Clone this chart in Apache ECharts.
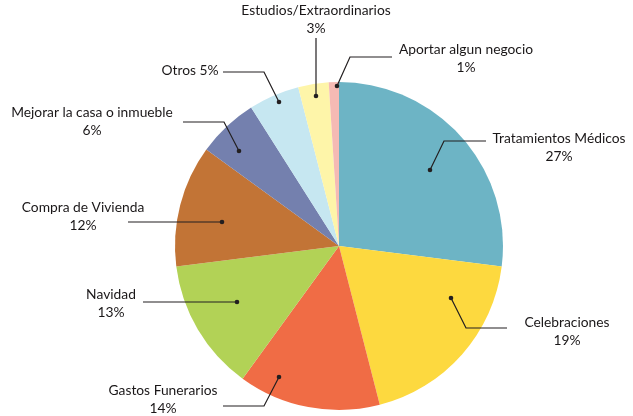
<!DOCTYPE html>
<html>
<head>
<meta charset="utf-8">
<script src="https://cdn.jsdelivr.net/npm/echarts@6/dist/echarts.min.js"></script>
<style>
  html, body { margin: 0; padding: 0; background: #fff; }
  #chart { width: 633px; height: 416px; }
</style>
</head>
<body>
<div id="chart"></div>
<script>
// datos del gráfico
const categories = [
  'Tratamientos Médicos', 'Celebraciones', 'Gastos Funerarios', 'Navidad',
  'Compra de Vivienda', 'Mejorar la casa o inmueble', 'Otros',
  'Estudios/Extraordinarios', 'Aportar algun negocio'
];
const values = [27, 19, 14, 13, 12, 6, 5, 3, 1];
const colors = ['#6db4c5', '#fdd93f', '#f06c45', '#b2d256', '#c27436', '#7480ae', '#c6e7f1', '#fef5a9', '#f5bab4'];

// posición de cada etiqueta: texto (centro) y línea guía (punto -> codo -> final)
const labelPos = [
  { text: [559, 148], line: [[430, 170], [444, 141], [486, 141]] },
  { text: [567, 332], line: [[451, 298], [466, 328], [507, 328]] },
  { text: [163, 400], line: [[279, 377], [264, 406], [223, 406]] },
  { text: [111, 304], line: [[237, 302], [143, 302]] },
  { text: [83, 217], line: [[222, 222], [128, 222]] },
  { text: [92, 122], line: [[239, 151], [224, 122], [183, 122]] },
  { text: [190, 71], line: [[279, 102], [264, 72], [223, 72]] },
  { text: [316, 20], line: [[316, 96], [316, 38]] },
  { text: [466, 59], line: [[337, 86], [350, 57], [392, 57]] }
];

const chart = echarts.init(document.getElementById('chart'), null, { renderer: 'canvas' });

const data = categories.map((name, i) => ({
  name,
  value: values[i],
  itemStyle: { color: colors[i] }
}));

// líneas guía y puntos
const guides = [];
labelPos.forEach(p => {
  guides.push({
    type: 'polyline',
    shape: { points: p.line },
    style: { stroke: '#231f20', lineWidth: 1.2, fill: null },
    z: 100
  });
  guides.push({
    type: 'circle',
    shape: { cx: p.line[0][0], cy: p.line[0][1], r: 2.3 },
    style: { fill: '#231f20' },
    z: 101
  });
});

chart.setOption({
  animation: false,
  graphic: guides,
  series: [
    {
      type: 'pie',
      center: [339, 246],
      radius: 164,
      startAngle: 90,
      clockwise: true,
      data,
      itemStyle: { borderWidth: 0 },
      label: {
        show: true,
        position: 'outside',
        fontFamily: 'Lato',
        fontSize: 13.8,
        lineHeight: 18,
        color: '#1a1718',
        align: 'center',
        overflow: 'none',
        formatter: p => p.name === 'Otros' ? p.name + ' ' + p.value + '%' : p.name + '\n' + p.value + '%'
      },
      labelLine: { show: false },
      labelLayout: params => {
        const p = labelPos[params.dataIndex];
        return {
          x: p.text[0],
          y: p.text[1],
          align: 'center',
          verticalAlign: 'middle'
        };
      }
    }
  ]
});
</script>
</body>
</html>
